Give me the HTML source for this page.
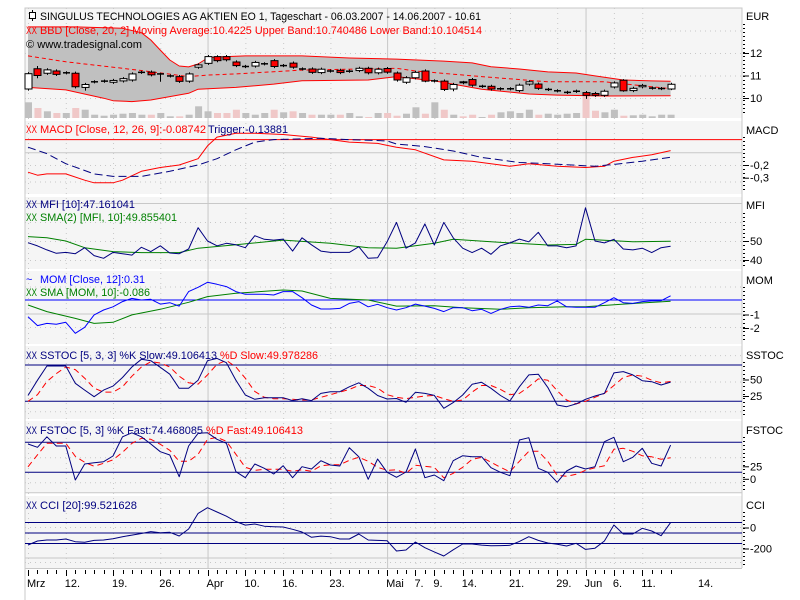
<!DOCTYPE html>
<html><head><meta charset="utf-8">
<style>
html,body{margin:0;padding:0;background:#fff;}
svg{display:block;font-family:"Liberation Sans","DejaVu Sans",sans-serif;font-size:11px;}
</style></head>
<body>
<svg id="chart" width="800" height="600" viewBox="0 0 800 600" xmlns="http://www.w3.org/2000/svg">
<rect x="0" y="0" width="800" height="600" fill="#ffffff"/>
<g id="panels"></g>
<g id="grid"></g>
<g id="marks"></g>
<g id="labels"></g>
</svg>
<script>
// ---------- data ----------
const xLabels = ["Mrz","12.","19.","26.","Apr","10.","16.","23.","Mai","7.","9.","14.","21.","29.","Jun","6.","11.","14."];
const xLabelIdx = [0,4,9,14,19,23,27,32,38,41,43,46,51,56,59,62,65,71];
const monthIdx = [19,38,59];
const openP = [10.40,11.30,11.10,11.20,11.12,11.10,10.47,10.72,10.75,10.70,10.76,10.80,11.14,11.15,11.07,10.98,10.95,10.75,11.37,11.54,11.84,11.84,11.60,11.40,11.42,11.52,11.66,11.44,11.55,11.29,11.29,11.13,11.20,11.23,11.19,11.22,11.32,11.12,11.31,11.11,10.70,10.90,11.20,10.76,10.75,10.40,10.72,10.82,10.52,10.52,10.41,10.41,10.33,10.62,10.62,10.38,10.32,10.25,10.30,10.24,10.20,10.12,10.49,10.79,10.33,10.50,10.44,10.42,10.40];
const closeP = [11.08,11.00,11.25,11.05,11.12,10.50,10.60,10.72,10.75,10.78,10.86,11.07,11.14,11.03,11.07,10.98,10.74,11.07,11.47,11.84,11.66,11.70,11.44,11.40,11.58,11.52,11.40,11.44,11.37,11.29,11.14,11.28,11.20,11.13,11.19,11.32,11.12,11.28,11.15,10.80,10.90,11.14,10.75,10.76,10.38,10.60,10.68,10.57,10.52,10.40,10.41,10.41,10.57,10.72,10.43,10.38,10.32,10.25,10.30,10.12,10.12,10.30,10.67,10.32,10.43,10.56,10.44,10.42,10.61];
const highIdx = [1,14,42,63,20,46];
const highVal = [11.42,11.12,11.27,10.84,11.9,10.76];
const lowIdx = [1,6,14,42,45,59,63,68];
const lowVal = [10.88,10.33,10.72,10.70,10.30,9.96,10.28,10.35];
const volume = [157,100,67,50,50,100,83,33,23,33,43,50,33,33,50,17,17,33,117,67,50,50,83,50,33,50,83,57,67,50,33,33,33,33,50,17,10,50,50,23,43,107,43,157,83,33,17,33,10,33,57,67,50,83,33,43,33,43,50,217,73,57,83,23,27,33,17,33,33];
const bandIdx  = [0,5,10,12,13,14,15,16,17,18,19,20,23,29,34,39,44,47,49,52,55,58,60,63,66,68];
const upperBand = [13.16,13.16,13.1,12.9,12.58,12.13,11.69,11.42,11.38,11.51,11.78,11.82,11.87,11.87,11.78,11.73,11.64,11.56,11.39,11.29,11.16,11.11,10.98,10.8,10.76,10.74];
const lowIdxB = [0,4,8,9,11,13,15,17,18,22,26,29,36,38,39,43,45,48,53,56,61,68];
const lowerBand = [10.47,10.36,9.99,9.88,9.84,9.91,10.06,10.21,10.39,10.47,10.62,10.77,10.8,10.9,10.95,10.76,10.62,10.39,10.18,10.13,10.09,10.10];
const maIdx = [0,4,10,13,17,19,22,29,39,41,48,55,61,66,68];
const maVal = [11.87,11.61,11.32,11.17,10.95,11.02,11.07,11.24,11.32,11.2,10.95,10.72,10.72,10.5,10.42];

const macdIdx = [0,1,2,4,6,7,9,10,12,14,15,16,18,19,20,22,24,27,30,32,34,37,39,41,44,47,51,53,56,59,61,62,64,66,68];
const macdVal = [-0.257,-0.28,-0.27,-0.27,-0.32,-0.34,-0.34,-0.32,-0.25,-0.22,-0.21,-0.2,-0.15,-0.05,0.02,0.05,0.05,0.04,0.02,0,-0.02,-0.03,-0.06,-0.08,-0.16,-0.17,-0.21,-0.19,-0.21,-0.22,-0.21,-0.17,-0.14,-0.12,-0.087];
const trigIdx = [0,2,4,7,9,12,15,18,20,22,24,26,31,34,38,39,42,45,48,52,55,60,62,65,68];
const trigVal = [-0.06,-0.11,-0.19,-0.27,-0.29,-0.29,-0.25,-0.2,-0.15,-0.08,-0.02,0,0.01,0,-0.01,-0.035,-0.055,-0.09,-0.14,-0.18,-0.19,-0.21,-0.195,-0.17,-0.139];

const mfi = [49.1,47.4,45.3,43.5,44,43.3,46.5,42.3,40.9,44,43.3,42.6,46.7,44.4,47.5,43.7,43.3,45.8,57,50,47.5,48.8,48,46.5,52.8,50.9,50.5,51,44.7,51.7,48,44.7,44,44,44,47,40.9,41.2,49.6,59.8,46.2,49,59,47.9,59.8,51.7,46.2,43.9,46.2,43,47.5,49,51,49.6,54.6,47.4,47.4,46.5,47.4,67.5,50,49,50.9,45.8,45.3,46.2,43.9,46.5,47.2];
const mfiSmaIdx = [0,2,4,6,9,12,16,18,22,27,32,36,39,43,45,49,51,55,58,59,64,68];
const mfiSma = [52.3,51.7,50,46.5,44.4,43.9,43.9,46.2,48,50.5,48.8,46.5,46.2,48.8,50.9,49.6,49,47.9,48.2,50.9,49.6,49.9];

const mom = [-1.24,-1.9,-1.73,-1.8,-1.65,-2.47,-2.02,-1.1,-0.74,-0.5,-0.12,0.12,0,0.05,-0.3,-0.2,-0.45,0.62,0.94,1.31,1.16,0.99,0.62,0.42,0.42,0.42,0.37,0.62,0.62,0.17,-0.37,-0.67,-0.67,-0.62,-0.25,-0.12,-0.5,-0.32,-0.57,-0.74,-0.57,-0.3,-0.45,-0.62,-0.86,-0.57,-0.57,-0.79,-0.69,-0.99,-0.69,-0.5,-0.45,-0.54,-0.37,-0.42,-0.07,-0.5,-0.54,-0.54,-0.54,-0.2,0.17,-0.2,-0.25,-0.12,-0.07,-0.05,0.31];
const momSmaIdx = [0,2,5,7,9,11,14,17,19,22,27,29,32,36,39,43,46,50,53,57,59,63,68];
const momSma = [-0.37,-0.86,-1.36,-1.73,-1.65,-1.1,-0.69,-0.17,0.25,0.5,0.74,0.67,0.12,0,-0.45,-0.42,-0.57,-0.69,-0.57,-0.5,-0.5,-0.3,-0.086];

const sstocK = [28.8,52,73.5,73.5,73.5,47.3,37,27,37,43,56,72,83.6,81.5,71.5,61,39.7,39.7,52,81.5,85,78.5,52,29.5,23,25.5,25.5,25.5,21,24,21,32,34.5,34.5,42,48,39.7,28.8,23.5,24.3,18.5,33.6,32,29,9.4,18,29.5,45.8,48.8,39.7,28.8,20.5,42,60,61,41,14.4,11.8,16,23,28,32,63,65,60,51.2,49.7,44.7,49.1];
const sstocD = [20,30,50,62,72,68,55,40,34,34,42,58,72,80,78,72,58,48,46,60,76,82,72,55,35,26,24,24,23,22,22,26,30,34,38,44,44,40,30,26,24,26,28,29,24,20,22,34,44,44,38,30,32,42,54,52,36,22,16,20,26,32,44,56,60,58,52,48,50];
const fstocK = [76.6,70,91,72.6,72.6,4.6,36.6,39.2,41.2,52.6,91,99,91,76.6,61.2,54.6,11.2,72.6,98,99,86,78,21.2,9.2,36.6,28,16.6,33.2,9.2,31.2,26.6,43.2,34.6,32.6,69.2,51.2,6,46.6,20,10,20.6,66.6,9.2,14.6,3.2,43.2,53.2,51.2,51.2,29.2,20,13.2,84.6,89.2,28,20,0,22.6,32.6,26.6,31.2,81.2,90,41.2,50,68,38,32.6,74.5];
const fstocD = [31,55,78,78,78,52,40,32,38,45,60,78,88,86,76,64,42,42,56,86,90,82,56,30,24,26,26,26,22,25,22,33,35,35,44,50,42,30,24,25,18,34,32,30,9,18,30,46,50,40,30,21,42,62,62,42,14,12,16,24,29,33,66,68,62,53,51,46,49.1];
const cci = [-114,-76,-67,-67,-57,-83,-89,-70,-67,-54,-35,-20,-5,13,3,7,-29,38,187,241,200,160,110,75,86,65,60,57,35,10,-41,-30,-35,-57,-57,-10,-67,-70,-73,-171,-162,-86,-140,-180,-219,-160,-105,-105,-115,-121,-120,-117,-80,-35,-70,-95,-108,-124,-98,-156,-145,-76,76,-10,-10,45,19,-26,99.5];

// ---------- layout ----------
const NS = "http://www.w3.org/2000/svg";
const L = 25, R = 742;
const X = i => 28 + i * 9.45;
const panels = {
  price:{y0:8,y1:118}, macd:{y0:121,y1:194}, mfi:{y0:197,y1:269}, mom:{y0:271,y1:344},
  sstoc:{y0:346,y1:419}, fstoc:{y0:421,y1:493}, cci:{y0:496,y1:568}
};
const yPrice = v => 53 + (12 - v) * 22.5;
const yMacd = v => 139.6 - v * 127;
const yMfi = v => 241 + (50 - v) * 1.9;
const yMom = v => 300 - v * 13.5;
const ySst = v => 381.5 - (v - 50) * 0.66;
const yFst = v => 472.3 - (v - 20) * 0.5;
const yCci = v => 533 - v * 0.105;

function mk(tag, attrs, parent){
  const e = document.createElementNS(NS, tag);
  for (const k in attrs) e.setAttribute(k, attrs[k]);
  parent.appendChild(e); return e;
}
const gP = document.getElementById('panels'), gG = document.getElementById('grid'),
      gM = document.getElementById('marks'), gL = document.getElementById('labels');

// panel backgrounds
for (const k in panels){
  const p = panels[k];
  const r = mk('rect',{x:L,y:p.y0,width:R-L,height:p.y1-p.y0,fill:'#f5f5f5'},gP);
  
  
  const cp = mk('clipPath',{id:'clip-'+k},gP);
  mk('rect',{x:L,y:p.y0,width:R-L,height:p.y1-p.y0},cp);
}
const border = mk('path',{d:`M${L},600 V8 H${R} V568`,fill:'none',stroke:'#c8c8c8','stroke-width':1},gP);



// vertical grid
xLabelIdx.forEach((idx, j) => {
  if (idx > 68) return;
  const solid = monthIdx.includes(idx);
  const ln = mk('line',{x1:X(idx)+0.5,x2:X(idx)+0.5,y1:8,y2:568,stroke:solid?'#c8c8c8':'#c8c8c8','stroke-width':1,'stroke-dasharray':solid?'none':'1,4'},gG);
  
  
});
// horizontal grid (dotted)
function hgrid(ys, dashed){
  ys.forEach(y => {
    const ln = mk('line',{x1:L,x2:R,y1:y+0.5,y2:y+0.5,stroke:'#c8c8c8','stroke-width':1,'stroke-dasharray':dashed?'1,4':'none'},gG);
    
    
  });
}
hgrid([yPrice(13),yPrice(12),yPrice(11),yPrice(10)], true);
hgrid([yMacd(-0.2),yMacd(-0.33)], true); hgrid([yMacd(-0.1)], false);
hgrid([yMfi(50),yMfi(40),yMfi(60)], true); hgrid([yMfi(70)], false);
hgrid([yMom(-2),yMom(1)], true); hgrid([yMom(-1)], false);
hgrid([ySst(50),ySst(90),ySst(5)], true);
hgrid([yFst(50),yFst(0)], true); hgrid([yFst(-20)], false);
hgrid([yCci(-100)+14], false); hgrid([yCci(0)-6, yCci(-200)+8], true);

// helpers
function pathFrom(idxs, vals, yf){
  return idxs.map((ix,k)=>(k?'L':'M')+X(ix).toFixed(1)+','+yf(vals[k]).toFixed(1)).join(' ');
}
const allIdx = closeP.map((_,i)=>i);
function line(panel, idxs, vals, yf, color, name, dash, w){
  const p = mk('path',{d:pathFrom(idxs,vals,yf),fill:'none',stroke:color,'stroke-width':w||1,'clip-path':`url(#clip-${panel})`,'stroke-dasharray':dash||'none','stroke-linejoin':'round'},gM);
  
  
  return p;
}
function hline(panel, y, color, name){
  const l = mk('line',{x1:L,x2:R,y1:y,y2:y,stroke:color,'stroke-width':1},gM);
  
  
}

// ---------- price panel ----------
// volume
volume.forEach((v,i)=>{
  const h = v * 0.1;
  const up = closeP[i] >= openP[i];
  const b = mk('rect',{x:X(i)-3,y:118-h,width:7,height:h,fill:up?'#c0c0c0':'#f0c8c8'},gM);
  
  
});
// band
const up = pathFrom(bandIdx, upperBand, yPrice);
const lowRev = lowIdxB.map((ix,k)=>[ix,lowerBand[k]]).reverse();
const bandD = up + ' ' + lowRev.map(p=>'L'+X(p[0]).toFixed(1)+','+yPrice(p[1]).toFixed(1)).join(' ') + ' Z';
const band = mk('path',{d:bandD,fill:'#c0c0c0',stroke:'none','clip-path':'url(#clip-price)'},gM);


line('price', bandIdx, upperBand, yPrice, '#ff0000', 'upper-band-line');
line('price', lowIdxB, lowerBand, yPrice, '#ff0000', 'lower-band-line');
line('price', maIdx, maVal, yPrice, '#ff0000', 'moving-average-line', '4,3');
// candles
closeP.forEach((c,i)=>{
  const o = openP[i];
  let hi = Math.max(o,c) + 0.07, lo = Math.min(o,c) - 0.07;
  const hk = highIdx.indexOf(i); if (hk >= 0) hi = highVal[hk];
  const lk = lowIdx.indexOf(i); if (lk >= 0) lo = lowVal[lk];
  const g = mk('g',{},gM);
  
  
  const cx = Math.round(X(i)) + 0.5;
  mk('line',{x1:cx,x2:cx,y1:yPrice(hi),y2:yPrice(lo),stroke:'#000','stroke-width':1},g);
  const top = yPrice(Math.max(o,c)), bot = yPrice(Math.min(o,c));
  if (Math.abs(o-c) < 0.01){
    mk('line',{x1:cx-3.5,x2:cx+3.5,y1:top,y2:top,stroke:'#000','stroke-width':1.5},g);
  } else {
    mk('rect',{x:cx-3.5,y:top,width:7,height:Math.max(1,bot-top),fill:c>o?'#ffffff':'#ff0000',stroke:'#000','stroke-width':1},g);
  }
});

// ---------- indicators ----------
hline('macd', yMacd(0), '#ff0000', 'macd-zero-line');
line('macd', macdIdx, macdVal, yMacd, '#ff0000', 'macd-line');
line('macd', trigIdx, trigVal, yMacd, '#000080', 'macd-trigger-line', '8,4');

line('mfi', mfiSmaIdx, mfiSma, yMfi, '#008000', 'mfi-sma-line');
line('mfi', allIdx, mfi, yMfi, '#000080', 'mfi-line');

hline('mom', yMom(0), '#0000ff', 'mom-zero-line');
line('mom', momSmaIdx, momSma, yMom, '#008000', 'mom-sma-line');
line('mom', allIdx, mom, yMom, '#0000ff', 'mom-line');

hline('sstoc', ySst(75), '#000080', 'sstoc-upper-line');
hline('sstoc', ySst(20), '#000080', 'sstoc-lower-line');
line('sstoc', allIdx, sstocD, ySst, '#ff0000', 'sstoc-d-line', '6,4');
line('sstoc', allIdx, sstocK, ySst, '#000080', 'sstoc-k-line');

hline('fstoc', yFst(80), '#000080', 'fstoc-upper-line');
hline('fstoc', yFst(20), '#000080', 'fstoc-lower-line');
line('fstoc', allIdx, fstocD, yFst, '#ff0000', 'fstoc-d-line', '6,4');
line('fstoc', allIdx, fstocK, yFst, '#000080', 'fstoc-k-line');

hline('cci', yCci(100), '#000080', 'cci-upper-line');
hline('cci', yCci(0), '#000080', 'cci-zero-line');
hline('cci', yCci(-100), '#000080', 'cci-lower-line');
line('cci', allIdx, cci, yCci, '#000080', 'cci-line');

// ---------- text ----------
function txt(x, y, s, color, name, len, anchor){
  const t = mk('text',{x:x,y:y,fill:color||'#000'},gL);
  if (len) { t.setAttribute('textLength', len); t.setAttribute('lengthAdjust','spacingAndGlyphs'); }
  if (anchor) t.setAttribute('text-anchor', anchor);
  t.textContent = s;
  
  
  return t;
}
function icon(y, color, name){
  txt(26, y, 'XX', color, name, 11);
}
// title
const ic = mk('g',{},gL);


mk('line',{x1:32.5,x2:32.5,y1:10,y2:21,stroke:'#000'},ic);
mk('rect',{x:29.5,y:12.5,width:6,height:6,fill:'#fff',stroke:'#000'},ic);
txt(40, 20, 'SINGULUS TECHNOLOGIES AG AKTIEN EO 1, Tageschart - 06.03.2007 - 14.06.2007 - 10.61', '#000', 'chart-title', 441);
icon(34, '#ff0000', 'bbd-icon');
txt(40, 34, 'BBD [Close, 20, 2] Moving Average:10.4225 Upper Band:10.740486 Lower Band:10.104514', '#ff0000', 'bbd-legend', 442);
txt(26, 48, '© www.tradesignal.com', '#000', 'copyright', 116);

icon(133, '#ff0000', 'macd-icon');
txt(40, 133, 'MACD [Close, 12, 26, 9]:-0.08742', '#ff0000', 'macd-legend', 166);
txt(208, 133, 'Trigger:-0.13881', '#000080', 'trigger-legend', 80);
icon(208, '#000080', 'mfi-icon');
txt(40, 208, 'MFI [10]:47.161041', '#000080', 'mfi-legend', 95);
icon(221, '#008000', 'mfi-sma-icon');
txt(40, 221, 'SMA(2) [MFI, 10]:49.855401', '#008000', 'mfi-sma-legend', 137);
txt(26, 283, '~', '#0000ff', 'mom-icon');
txt(40, 283, 'MOM [Close, 12]:0.31', '#0000ff', 'mom-legend', 105);
icon(296, '#008000', 'mom-sma-icon');
txt(40, 296, 'SMA [MOM, 10]:-0.086', '#008000', 'mom-sma-legend', 110);
icon(359, '#000080', 'sstoc-icon');
txt(40, 359, 'SSTOC [5, 3, 3] %K Slow:49.106413', '#000080', 'sstoc-legend', 177);
txt(220, 359, '%D Slow:49.978286', '#ff0000', 'sstoc-d-legend', 98);
icon(434, '#000080', 'fstoc-icon');
txt(40, 434, 'FSTOC [5, 3] %K Fast:74.468085', '#000080', 'fstoc-legend', 163);
txt(206, 434, '%D Fast:49.106413', '#ff0000', 'fstoc-d-legend', 97);
icon(509, '#000080', 'cci-icon');
txt(40, 509, 'CCI [20]:99.521628', '#000080', 'cci-legend', 97);

// right axis
const axisNames = [['EUR',20],['MACD',134],['MFI',209],['MOM',284],['SSTOC',359],['FSTOC',434],['CCI',509]];
axisNames.forEach(a => txt(746, a[1], a[0], '#000', 'axis-title-' + a[0].toLowerCase()));
// minor dotted ticks along right axis
for (const k in panels){
  const p = panels[k];
  for (let y = p.y0 + 16; y < p.y1 - 2; y += 4){
    const t = mk('line',{x1:743,x2:745,y1:y+0.5,y2:y+0.5,stroke:'#000'},gL);
    
    
  }
}
function ytick(y, label){
  const t = mk('line',{x1:743,x2:749,y1:y+0.5,y2:y+0.5,stroke:'#000'},gL);
  
  
  txt(750, y + 4, label, '#000', 'axis-tick-label');
}
const priceTicks = [12,11,10];
priceTicks.forEach(v => ytick(yPrice(v), String(v)));
const macdTicks = [-0.2,-0.3];
macdTicks.forEach(v => ytick(yMacd(v), String(v).replace('.',',')));
const mfiTicks = [50,40];
mfiTicks.forEach(v => ytick(yMfi(v), String(v)));
const momTicks = [-1,-2];
momTicks.forEach(v => ytick(yMom(v)+1, String(v)));
const sstTicks = [50,25];
sstTicks.forEach(v => ytick(ySst(v)-2, String(v)));
const fstTicks = [25,0];
fstTicks.forEach(v => ytick(yFst(v)-3.5, String(v)));
const cciTicks = [0,-200];
cciTicks.forEach(v => ytick(yCci(v)-5.5, String(v)));

// x axis
const ax = mk('line',{x1:L,x2:R,y1:568.5,y2:568.5,stroke:'#c8c8c8'},gL);


for (let i = 0; i <= 68; i++){
  const major = xLabelIdx.includes(i);
  const t = mk('line',{x1:Math.round(X(i))+0.5,x2:Math.round(X(i))+0.5,y1:570,y2:major?576:574,stroke:'#000'},gL);
  
  
}
xLabels.forEach((s,j) => txt(X(xLabelIdx[j]) - 1, 587, s, '#000', 'x-label-' + j));
</script>
</body></html>
